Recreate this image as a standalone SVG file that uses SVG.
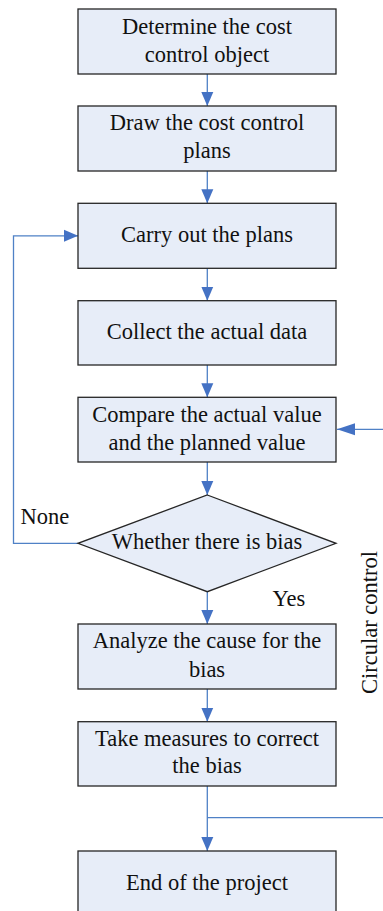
<svg xmlns="http://www.w3.org/2000/svg" width="383" height="911" viewBox="0 0 383 911">
<style>
.box{fill:#E7EDF8;stroke:#262626;stroke-width:1.3}
.t{font-family:"Liberation Serif","Times New Roman",serif;font-size:22.5px;fill:#111;text-anchor:middle}
.lbl{font-family:"Liberation Serif","Times New Roman",serif;font-size:22.5px;fill:#111}
.c{fill:none;stroke:#4F81C6;stroke-width:1.3}
</style>
<defs>
<marker id="ah" markerUnits="userSpaceOnUse" markerWidth="14" markerHeight="14" viewBox="0 0 14 12" refX="14" refY="6" orient="auto">
<path d="M0,0 L14,6 L0,12 Z" fill="#4472C4"/>
</marker>
<marker id="ahl" markerUnits="userSpaceOnUse" markerWidth="18" markerHeight="14" viewBox="0 0 18 12" refX="18" refY="6" orient="auto">
<path d="M0,0 L18,6 L0,12 Z" fill="#4472C4"/>
</marker>
</defs>
<rect width="383" height="911" fill="#fff"/>
<g id="connectors">
<line class="c" x1="207.3" y1="74" x2="207.3" y2="106" marker-end="url(#ah)"/>
<line class="c" x1="207.3" y1="171" x2="207.3" y2="203.3" marker-end="url(#ah)"/>
<line class="c" x1="207.3" y1="268.3" x2="207.3" y2="300.7" marker-end="url(#ah)"/>
<line class="c" x1="207.3" y1="365" x2="207.3" y2="397.3" marker-end="url(#ah)"/>
<line class="c" x1="207.3" y1="462" x2="207.3" y2="495" marker-end="url(#ah)"/>
<line class="c" x1="207.3" y1="591.7" x2="207.3" y2="624" marker-end="url(#ah)"/>
<line class="c" x1="207.3" y1="689" x2="207.3" y2="721.7" marker-end="url(#ah)"/>
<line class="c" x1="207.3" y1="786" x2="207.3" y2="851" marker-end="url(#ah)"/>
<polyline class="c" points="78,543.3 13.5,543.3 13.5,235.8 78,235.8" marker-end="url(#ah)"/>
<line class="c" x1="207.3" y1="817.7" x2="383" y2="817.7"/>
<line class="c" x1="383" y1="429.3" x2="337" y2="429.3" marker-end="url(#ahl)"/>
</g>
<g id="n1"><rect class="box" x="78" y="9" width="258" height="65"/><text class="t" x="207" y="34">Determine the cost</text><text class="t" x="207" y="62">control object</text></g>
<g id="n2"><rect class="box" x="78" y="106" width="258" height="65"/><text class="t" x="207" y="130">Draw the cost control</text><text class="t" x="207" y="158">plans</text></g>
<g id="n3"><rect class="box" x="78" y="203.3" width="258" height="65"/><text class="t" x="207" y="242.3">Carry out the plans</text></g>
<g id="n4"><rect class="box" x="78" y="300.7" width="258" height="64.3"/><text class="t" x="207" y="339">Collect the actual data</text></g>
<g id="n5"><rect class="box" x="78" y="397.3" width="258" height="64.7"/><text class="t" x="207" y="422.3">Compare the actual value</text><text class="t" x="207" y="450">and the planned value</text></g>
<g id="n6"><polygon class="box" points="207.3,495 336,543.3 207.3,591.7 78,543.3"/><text class="t" x="207" y="549">Whether there is bias</text></g>
<g id="n7"><rect class="box" x="78" y="624" width="258" height="65"/><text class="t" x="207" y="648.3">Analyze the cause for the</text><text class="t" x="207" y="676.7">bias</text></g>
<g id="n8"><rect class="box" x="78" y="721.7" width="258" height="64.3"/><text class="t" x="207" y="745.7">Take measures to correct</text><text class="t" x="207" y="773.3">the bias</text></g>
<g id="n9"><rect class="box" x="78" y="851" width="258" height="70"/><text class="t" x="207" y="890">End of the project</text></g>
<text class="lbl" x="20.5" y="524">None</text>
<text class="lbl" x="272.5" y="605.7">Yes</text>
<text class="t" transform="translate(377,622.5) rotate(-90)">Circular control</text>
</svg>
